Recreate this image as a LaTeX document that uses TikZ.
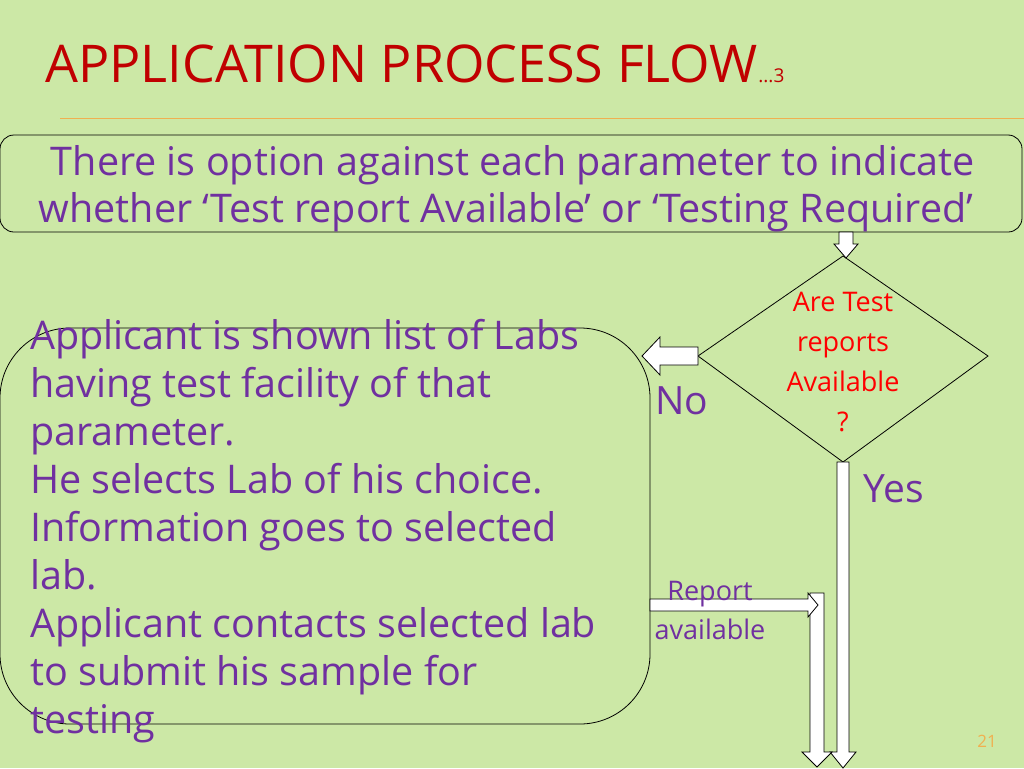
\documentclass[tikz,border=0pt]{standalone}
\usepackage{fontspec}
\setmainfont{Open Sans}
\usepackage{xcolor}
\usetikzlibrary{shapes,arrows,positioning,calc}
\definecolor{bggreen}{RGB}{204,232,166}
\definecolor{titlered}{RGB}{192,0,0}
\definecolor{txtpurple}{RGB}{112,48,160}
\definecolor{lineorange}{RGB}{240,176,80}
\tikzset{
  box/.style={draw=black, thick, rounded corners=#1, inner sep=0pt},
  body/.style={text=txtpurple, font=\fontsize{39.5}{48}\selectfont},
  blockarrow/.style={draw=black, fill=white, line width=0.8pt}
}
\begin{document}
\begin{tikzpicture}[x=1pt,y=-1pt]
    % background
    \fill[bggreen] (0,0) rectangle (1024,768);
    \useasboundingbox (0,0) rectangle (1024,768);

    % title
    \node[anchor=base west, inner sep=0pt, text=titlered, font=\fontsize{52}{60}\selectfont] (title) at (45,82) {APPLICATION PROCESS FLOW};
    \node[anchor=base west, inner sep=0pt, text=titlered, font=\fontsize{19}{22}\selectfont] (part) at (title.base east) {...3};
    \draw[lineorange, line width=1pt] (60,118) -- (1024,118);

    % boxes
    \draw[box=14pt] (0,135) rectangle (1022,232);
    \coordinate (topbox) at (846,232);
    \node[body, anchor=base, inner sep=0pt] (toptext) at (513,175) {There is option against each parameter to indicate};
    \node[body, anchor=base, inner sep=0pt] (toptext2) at (506,222) {whether ‘Test report Available’ or ‘Testing Required’};

    \draw[box=70pt] (0,328) rectangle (650,724);
    \node[body, align=left, anchor=base west, inner sep=0pt] (labs) at (30,733)
      {Applicant is shown list of Labs\\having test facility of that\\parameter.\\He selects Lab of his choice.\\Information goes to selected\\lab.\\Applicant contacts selected lab\\to submit his sample for\\testing};

    % decision
    \draw[black, line width=0.8pt] (843,256) coordinate (dtop) -- (988,356) coordinate (dright)
      -- (843,462) coordinate (dbot) -- (698,356) coordinate (dleft) -- cycle;
    \node[text=red, align=center, font=\fontsize{27}{40}\selectfont] (question) at (843,362) {Are Test\\reports\\Available\\?};

    % arrows
    \draw[blockarrow] (839,232) -- (853,232) -- (853,244) -- (858,244) -- (846,258) -- (834,244) -- (839,244) -- cycle;
    \draw[blockarrow] (dleft) ++(0,-9) -- ++(-38,0) -- ++(0,-10) -- ++(-18,19) -- ++(18,19) -- ++(0,-10) -- ++(38,0) -- cycle;
    \draw[blockarrow] (dbot) ++(-6,0) -- ++(12,0) -- ++(0,290) -- ++(7,0) -- ++(-13,16) -- ++(-13,-16) -- ++(7,0) -- cycle;
    \draw[blockarrow] (810,593) -- (824,593) -- (824,752) -- (832,752) -- (817,767) -- (802,752) -- (810,752) -- cycle;
    \draw[blockarrow] (650,599) -- (808,599) -- (808,593) -- (818,605) -- (808,617) -- (808,611) -- (650,611) -- cycle;

    % labels
    \node[text=txtpurple, font=\fontsize{39}{44}\selectfont, anchor=base west, inner sep=0pt] (no) at (655,414) {No};
    \node[text=txtpurple, font=\fontsize{39}{44}\selectfont, anchor=base west, inner sep=0pt] (yes) at (863,502) {Yes};
    \node[text=txtpurple, align=center, font=\fontsize{27}{39}\selectfont] (report) at (710,610) {Report\\available};
    \node[text=lineorange, font=\fontsize{17}{20}\selectfont] (page) at (987,741) {21};
\end{tikzpicture}
\end{document}
